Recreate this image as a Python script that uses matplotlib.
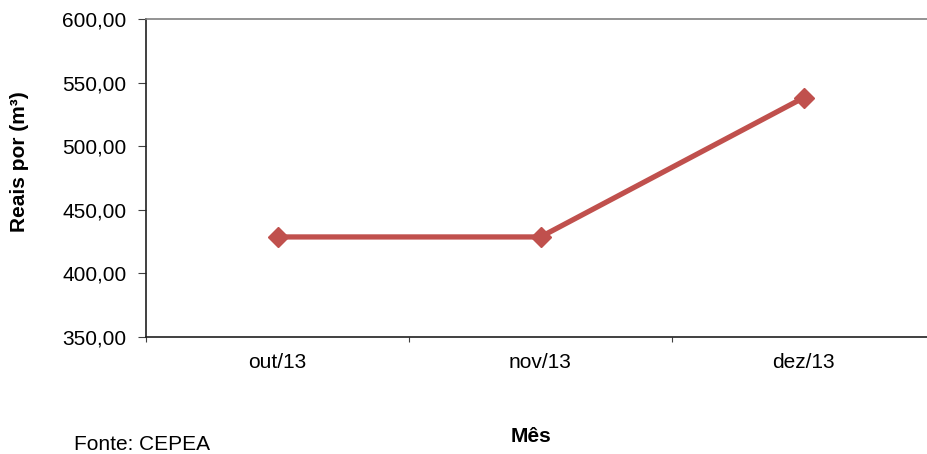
import matplotlib
matplotlib.use("Agg")
import matplotlib.pyplot as plt
from matplotlib.ticker import FixedLocator, FuncFormatter

plt.rcParams['font.family'] = ['Liberation Sans', 'DejaVu Sans']

months = ["out/13", "nov/13", "dez/13"]
prices = [428.5, 428.5, 538.0]
y_ticks = [350, 400, 450, 500, 550, 600]

fig = plt.figure(figsize=(9.27, 4.54), dpi=100)
ax = fig.add_axes([146/927, (454-336.7)/454, 789/927, 317.7/454])

x = list(range(len(months)))
ax.plot(x, prices, color='#C0504D', lw=3.8, marker='D', ms=10,
        markerfacecolor='#C0504D', markeredgecolor='#C0504D', solid_capstyle='butt', zorder=3)

ax.set_xlim(-0.5, len(months) - 0.5)
ax.set_ylim(350, 600)
ax.set_yticks(y_ticks)
ax.yaxis.set_major_formatter(FuncFormatter(lambda v, p: f"{v:,.2f}".replace(",", "X").replace(".", ",").replace("X", ".")))
ax.set_xticks(x)
ax.set_xticklabels(months)
ax.xaxis.set_minor_locator(FixedLocator([i - 0.5 for i in range(len(months) + 1)]))

fs = 15
ax.tick_params(axis='x', which='major', length=0, pad=12, labelsize=fs, colors='black')
ax.tick_params(axis='x', which='minor', length=3.5, width=0.8, direction='out', color='#404040')
ax.tick_params(axis='y', which='major', length=6, width=0.8, direction='out', pad=8, labelsize=fs, color='#404040')

for s in ['left', 'bottom']:
    ax.spines[s].set_color('#202020')
    ax.spines[s].set_linewidth(1.2)
ax.spines['top'].set_color('#808080')
ax.spines['top'].set_linewidth(1.2)
ax.spines['right'].set_visible(False)

fig.text(20/927, 1 - 162/454, "Reais por (m³)", rotation=90, fontsize=fs, fontweight='bold',
         ha='center', va='center')
fig.text(531/927, 1 - 437/454, "Mês", fontsize=fs, fontweight='bold', ha='center', va='center')
fig.text(74/927, 1 - 445/454, "Fonte: CEPEA", fontsize=fs, ha='left', va='center')

fig.savefig("out.png", dpi=100)
